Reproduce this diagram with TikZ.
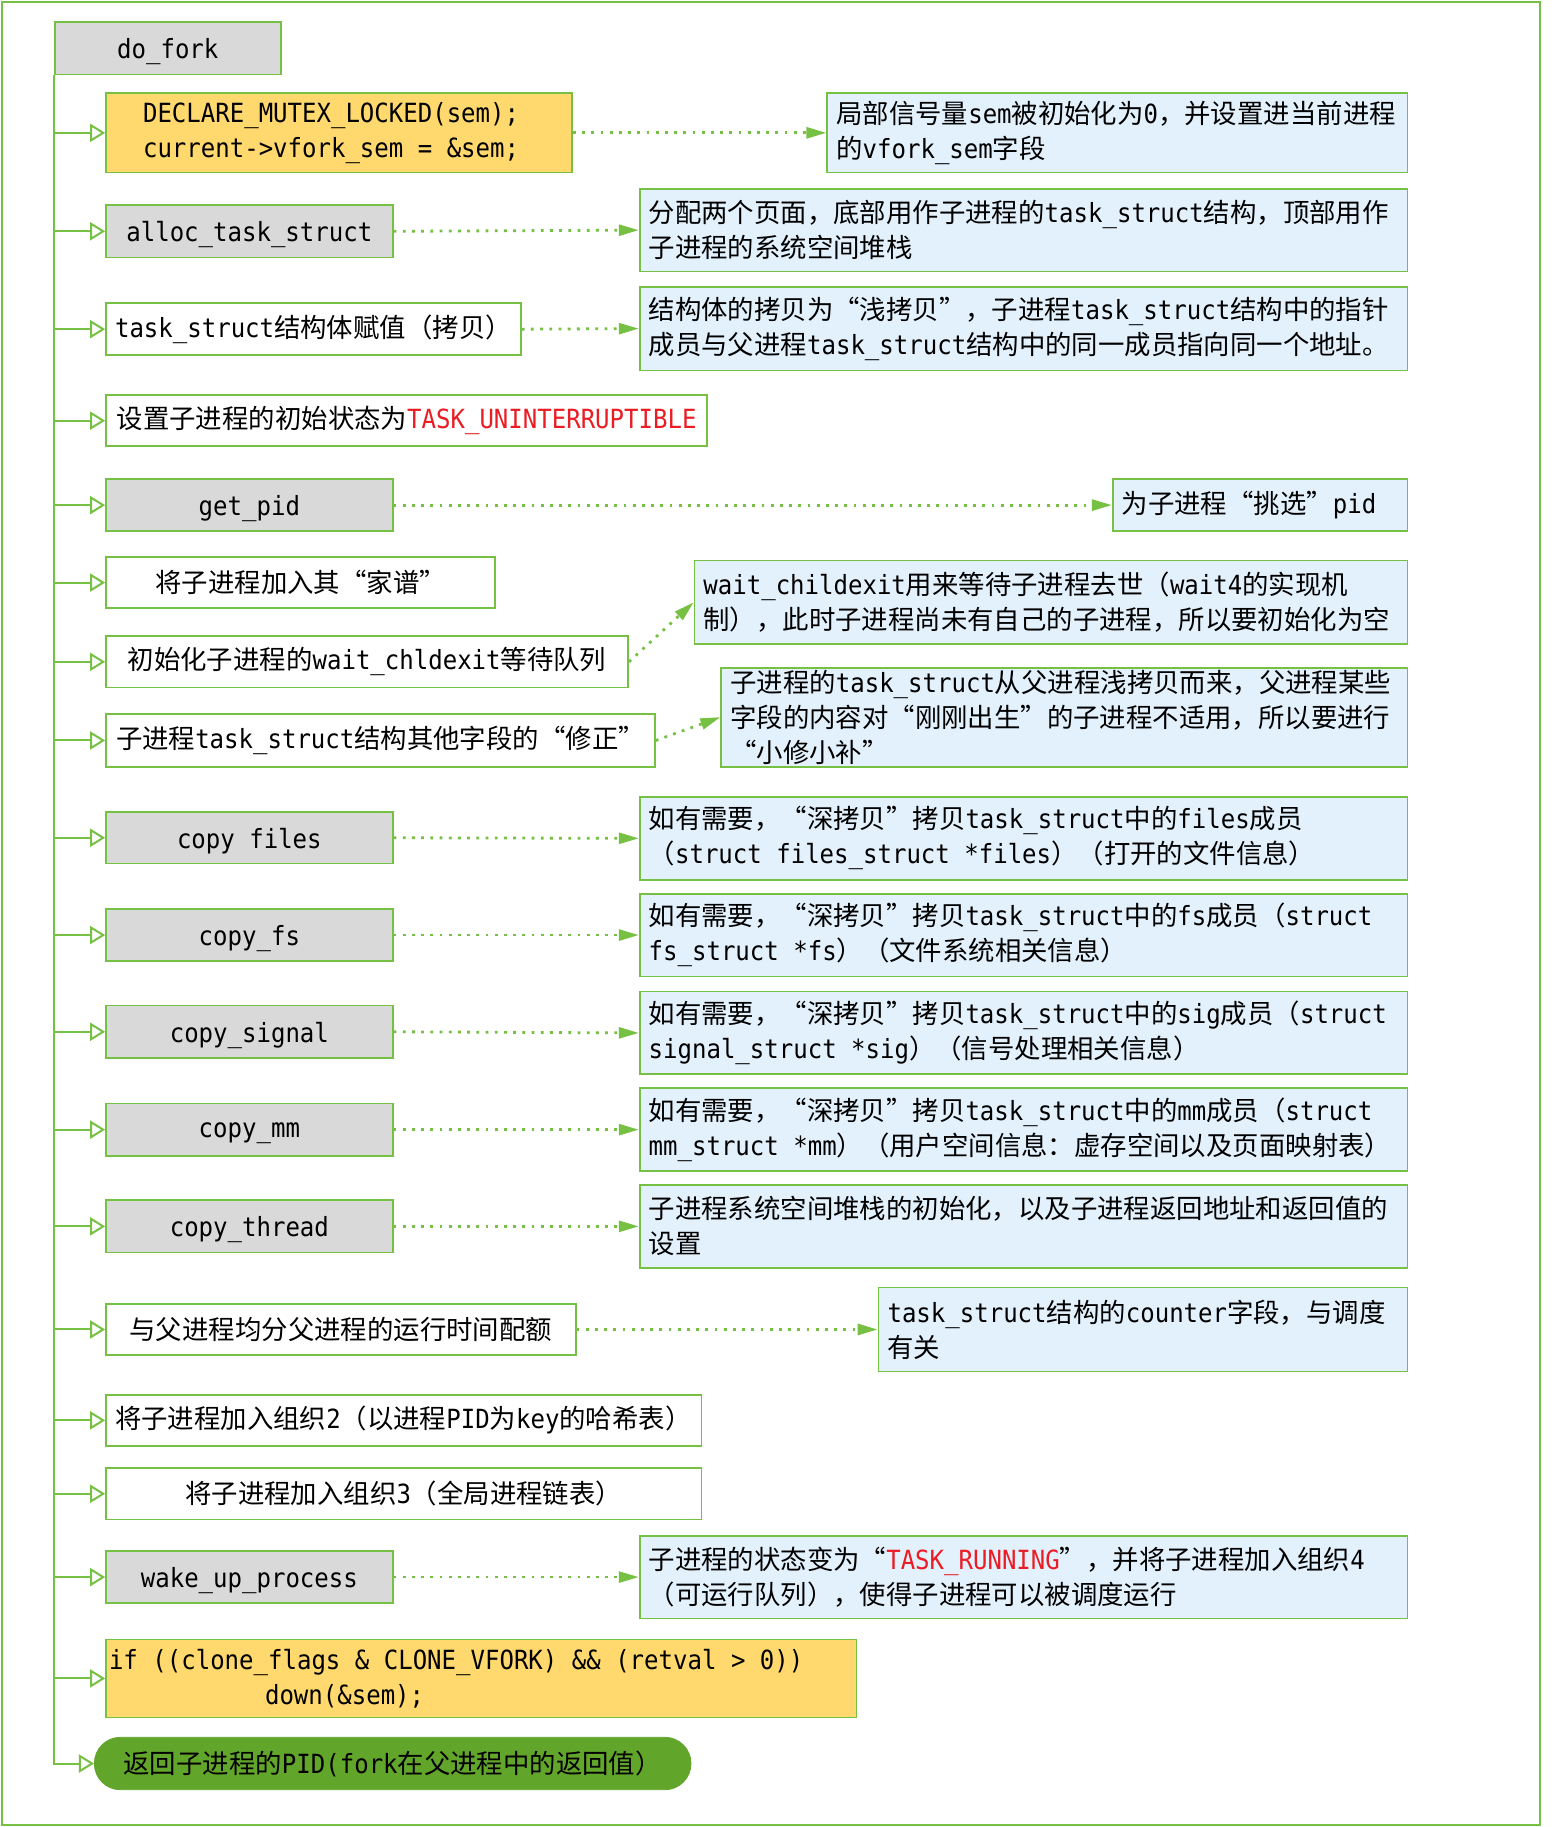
\documentclass[tikz,border=0pt]{standalone}
\usepackage{fontspec}
\setmainfont{Noto Sans CJK SC}
\setmonofont[FakeStretch=0.91]{DejaVu Sans Mono}
\usetikzlibrary{arrows.meta}
\definecolor{lg}{RGB}{118,192,67}
\definecolor{gfill}{RGB}{217,217,217}
\definecolor{ofill}{RGB}{255,216,110}
\definecolor{bfill}{RGB}{227,241,252}
\definecolor{dg}{RGB}{98,165,43}
\definecolor{rd}{RGB}{235,28,36}
\newcommand\mtt[1]{{\ttfamily #1}}
\newcommand\ms{\hspace*{0.548em}}
\newcommand\dn[1]{\raisebox{-1.8pt}[\height][\depth]{#1}}
\newcommand\bx[7]{%
  \pgfmathsetmacro\bxw{(#5-#3)*0.58252-9}%
  \node[#2, minimum width={(#5-#3)*0.58252pt}, minimum height={(#6-#4)*0.58252pt},
        text width=\bxw pt] (#1) at ({(#3+#5)/2},{(#4+#6)/2}) {#7};}
\tikzset{
  basebox/.style={draw=lg, line width=0.9pt, inner xsep=4.5pt, inner ysep=0pt, text=black},
  gbox/.style={basebox, fill=gfill, align=center},
  wbox/.style={basebox, fill=white, align=center},
  wlbox/.style={basebox, fill=white, align=left},
  obox/.style={basebox, fill=ofill, align=left},
  note/.style={basebox, fill=bfill, align=left},
  fin/.style={draw=dg, fill=dg, rounded corners=13pt, inner sep=0pt, text=black, align=center},
  branch/.style={draw=lg, line width=1pt, -{Triangle[open, length=7.5pt, width=9pt]}},
  dotarr/.style={draw=lg, line width=1.4pt, dash pattern=on 1.4pt off 3.2pt,
                 -{Triangle[length=10pt, width=5.5pt]}}
}
\begin{document}
\begin{tikzpicture}[x=0.58252pt, y=-0.58252pt, font=\fontsize{13.2}{17.5}\selectfont]
\useasboundingbox (0,0) rectangle (1339,1568);
\draw[lg, line width=1.1pt] (2,2) rectangle (1322,1566);

\bx{dofork}{gbox}{47}{19}{241}{64}{\dn{\mtt{do\_fork}}}
\bx{b1}{obox}{91}{80}{491}{148}{\hspace*{14pt}\mtt{DECLARE\_MUTEX\_LOCKED(sem);}\\\hspace*{14pt}\mtt{current->vfork\_sem\ms=\ms\&sem;}}
\bx{n1}{note}{710}{80}{1208}{148}{\mbox{局部信号量\mtt{sem}被初始化为\mtt{0}，并设置进当前进程}\\\mbox{的\mtt{vfork\_sem}字段}}

\bx{b2}{gbox}{91}{176}{337}{221}{\dn{\mtt{alloc\_task\_struct}}}
\bx{n2}{note}{549}{162}{1208}{233}{\mbox{分配两个页面，底部用作子进程的\mtt{task\_struct}结构，顶部用作}\\\mbox{子进程的系统空间堆栈}}

\bx{b3}{wbox}{91}{260}{447}{305}{\mtt{task\_struct}结构体赋值（拷贝）}
\bx{n3}{note}{549}{246}{1208}{318}{\mbox{结构体的拷贝为“浅拷贝”，子进程\mtt{task\_struct}结构中的指针}\\\mbox{成员与父进程\mtt{task\_struct}结构中的同一成员指向同一个地址。}}

\bx{b4}{wbox}{91}{339}{607}{383}{\mbox{设置子进程的初始状态为\textcolor{rd}{\mtt{TASK\_UNINTERRUPTIBLE}}}}

\bx{b5}{gbox}{91}{411}{337}{456}{\dn{\mtt{get\_pid}}}
\bx{n5}{note}{955}{411}{1208}{456}{为子进程“挑选”\mtt{pid}}

\bx{b6}{wbox}{91}{478}{425}{522}{将子进程加入其“家谱”}

\bx{b7}{wbox}{91}{546}{539}{590}{\mbox{初始化子进程的\mtt{wait\_chldexit}等待队列}}
\bx{n7}{note}{596}{481}{1208}{553}{\mbox{\mtt{wait\_childexit}用来等待子进程去世（\mtt{wait4}的实现机}\\\mbox{制），此时子进程尚未有自己的子进程，所以要初始化为空}}

\bx{b8}{wbox}{91}{613}{562}{658}{\mbox{子进程\mtt{task\_struct}结构其他字段的“修正”}}
\bx{n8}{note}{619}{573}{1208}{658}{\mbox{子进程的\mtt{task\_struct}从父进程浅拷贝而来，父进程某些}\\\mbox{字段的内容对“刚刚出生”的子进程不适用，所以要进行}\\\mbox{“小修小补”}}

\bx{b9}{gbox}{91}{697}{337}{741}{\dn{\mtt{copy\ms files}}}
\bx{n9}{note}{549}{684}{1208}{755}{\mbox{如有需要，“深拷贝”拷贝\mtt{task\_struct}中的\mtt{files}成员}\\\mbox{（\mtt{struct\ms files\_struct\ms *files}）（打开的文件信息）}}

\bx{b10}{gbox}{91}{780}{337}{825}{\dn{\mtt{copy\_fs}}}
\bx{n10}{note}{549}{767}{1208}{838}{\mbox{如有需要，“深拷贝”拷贝\mtt{task\_struct}中的\mtt{fs}成员（\mtt{struct}}\\\mbox{\mtt{fs\_struct\ms *fs}）（文件系统相关信息）}}

\bx{b11}{gbox}{91}{863}{337}{908}{\dn{\mtt{copy\_signal}}}
\bx{n11}{note}{549}{851}{1208}{922}{\mbox{如有需要，“深拷贝”拷贝\mtt{task\_struct}中的\mtt{sig}成员（\mtt{struct}}\\\mbox{\mtt{signal\_struct\ms *sig}）（信号处理相关信息）}}

\bx{b12}{gbox}{91}{947}{337}{992}{\dn{\mtt{copy\_mm}}}
\bx{n12}{note}{549}{934}{1208}{1005}{\mbox{如有需要，“深拷贝”拷贝\mtt{task\_struct}中的\mtt{mm}成员（\mtt{struct}}\\\mbox{\mtt{mm\_struct\ms *mm}）（用户空间信息：虚存空间以及页面映射表）}}

\bx{b13}{gbox}{91}{1030}{337}{1075}{\dn{\mtt{copy\_thread}}}
\bx{n13}{note}{549}{1017}{1208}{1088}{\mbox{子进程系统空间堆栈的初始化，以及子进程返回地址和返回值的}\\\mbox{设置}}

\bx{b14}{wbox}{91}{1119}{494}{1163}{与父进程均分父进程的运行时间配额}
\bx{n14}{note}{754}{1105}{1208}{1177}{\mbox{\mtt{task\_struct}结构的\mtt{counter}字段，与调度}\\\mbox{有关}}

\bx{b15}{wlbox}{91}{1197}{602}{1241}{\mbox{将子进程加入组织\mtt{2}（以进程\mtt{PID}为\mtt{key}的哈希表）}}
\bx{b16}{wbox}{91}{1260}{602}{1304}{将子进程加入组织\mtt{3}（全局进程链表）}

\bx{b17}{gbox}{91}{1331}{337}{1376}{\dn{\mtt{wake\_up\_process}}}
\bx{n17}{note}{549}{1318}{1208}{1389}{\mbox{子进程的状态变为“\textcolor{rd}{\mtt{TASK\_RUNNING}}”，并将子进程加入组织\mtt{4}}\\\mbox{（可运行队列），使得子进程可以被调度运行}}

\bx{b18}{obox}{91}{1407}{735}{1474}{\hspace*{-3pt}\mtt{if\ms((clone\_flags\ms\&\ms CLONE\_VFORK)\ms\&\&\ms(retval\ms>\ms0))}\\\hspace*{75pt}\mtt{down(\&sem);}}

\node[fin, minimum width={512*0.58252pt}, minimum height={45*0.58252pt}] (fin) at (337,1513.5)
  {返回子进程的\mtt{PID(fork}在父进程中的返回值）};

% trunk and branches
\draw[branch] (dofork.south west) |- (fin.west);
\foreach \b in {b1,b2,b3,b4,b5,b6,b7,b8,b9,b10,b11,b12,b13,b14,b15,b16,b17,b18}
  \draw[branch] (dofork.south west |- \b.west) -- (\b.west);

% dotted arrows to notes
\foreach \a/\n in {b1/n1,b2/n2,b3/n3,b5/n5,b7/n7,b8/n8,b9/n9,b10/n10,b11/n11,b12/n12,b13/n13,b14/n14,b17/n17}
  \draw[dotarr] (\a.east) -- (\n.west);
\end{tikzpicture}
\end{document}
